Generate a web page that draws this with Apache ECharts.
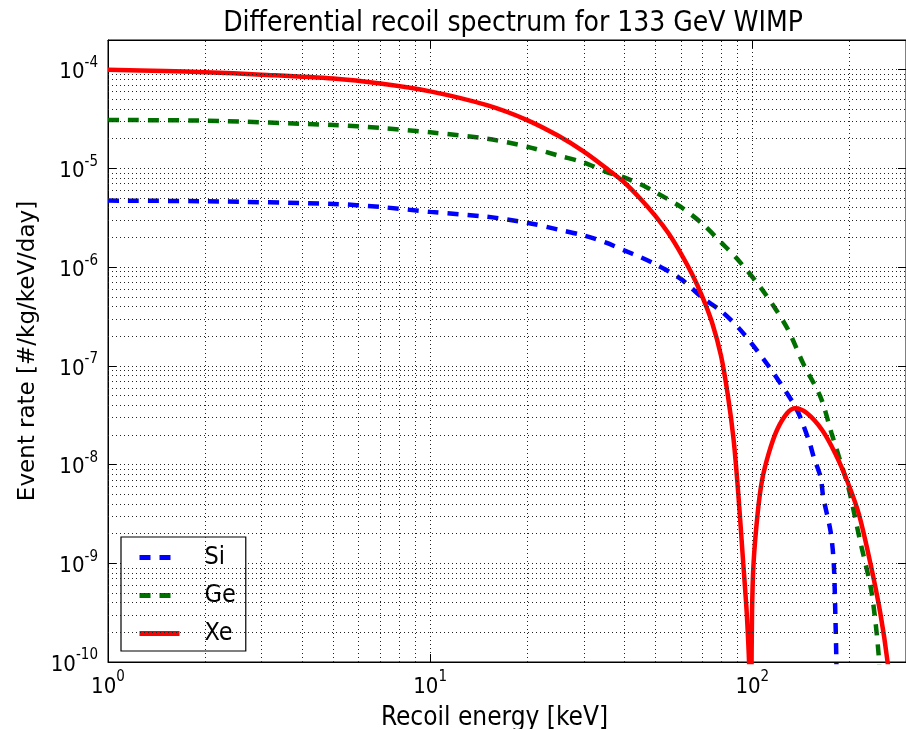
<!DOCTYPE html>
<html lang="en">
<head>
<meta charset="UTF-8">
<title>Differential recoil spectrum</title>
<script src="https://cdn.jsdelivr.net/npm/echarts@6/dist/echarts.min.js"></script>
<style>
  html, body { margin: 0; padding: 0; background: #fff; }
  #main { width: 906px; height: 729px; }
</style>
</head>
<body>
<div id="main"></div>
<script>
// values: recoil energy [keV] and event rate [#/kg/keV/day]
var siE = [1, 2, 5, 7, 10, 15, 20, 25, 30, 35, 40, 45, 50, 60, 70, 80, 92, 111, 134, 141, 151, 155, 163, 166, 175, 179, 181, 182.4, 184];
var siRate = [4.72e-6, 4.65e-6, 4.37e-6, 4.07e-6, 3.63e-6, 3.24e-6, 2.82e-6, 2.40e-6, 2.09e-6, 1.78e-6, 1.48e-6, 1.26e-6, 1.07e-6, 7.6e-7, 4.9e-7, 3.6e-7, 2.3e-7, 1.05e-7, 4.2e-8, 3.0e-8, 1.62e-8, 1.2e-8, 7.4e-9, 4.7e-9, 2.1e-9, 1.0e-9, 3.1e-10, 1.0e-10, 1e-11];

var geE = [1, 2, 5, 7, 10, 15, 20, 25, 30, 35, 40, 45, 50, 60, 70, 80, 90, 108, 128, 144, 163, 176, 197, 202, 216, 233, 241, 247, 250];
var geRate = [3.09e-5, 3.05e-5, 2.75e-5, 2.57e-5, 2.32e-5, 2.0e-5, 1.66e-5, 1.35e-5, 1.15e-5, 9.3e-6, 8.1e-6, 6.9e-6, 5.75e-6, 4.07e-6, 2.75e-6, 1.78e-6, 1.2e-6, 5.75e-7, 2.45e-7, 1.05e-7, 4.8e-8, 2.1e-8, 6.5e-9, 4.7e-9, 1.7e-9, 5.75e-10, 2.6e-10, 1.12e-10, 5e-11];

var xeE = [1, 1.5, 2, 3, 5, 7, 10, 15, 20, 25, 30, 35, 40, 45, 50, 55, 60, 65, 70, 75, 80, 84, 87.5, 90.5, 93.5, 96.3, 98.1, 98.8, 99.4, 99.8, 100.9, 103.9, 107.2, 112.4, 119.3, 128.2, 136, 147.9, 164.7, 181.1, 196.8, 213.9, 232.6, 249.8, 263, 270];
var xeRate = [1.0e-4, 9.72e-5, 9.44e-5, 8.91e-5, 8.13e-5, 7.24e-5, 6.03e-5, 4.37e-5, 3.09e-5, 2.14e-5, 1.48e-5, 1.02e-5, 7.24e-6, 4.9e-6, 3.31e-6, 2.19e-6, 1.38e-6, 8.5e-7, 5.0e-7, 2.75e-7, 1.26e-7, 5.0e-8, 1.78e-8, 5.0e-9, 1.12e-9, 2.8e-10, 6e-11, 1e-13, 5e-11, 3.1e-10, 1.0e-9, 3.2e-9, 6.9e-9, 1.29e-8, 2.24e-8, 3.31e-8, 3.72e-8, 3.31e-8, 2.24e-8, 1.29e-8, 6.9e-9, 3.2e-9, 1.0e-9, 3.1e-10, 1.0e-10, 4e-11];

var xMin = 1, xMax = 300;
var yMin = 1e-10, yMax = 2e-4;
// minor grid positions (2..9 per decade)
var xMinor = [2, 3, 4, 5, 6, 7, 8, 9, 20, 30, 40, 50, 60, 70, 80, 90, 200];
var yMinor = [];
for (var p = -10; p <= -5; p++) {
    for (var k = 2; k <= 9; k++) yMinor.push(k * Math.pow(10, p));
}

function pairs(xs, ys) {
    return xs.map(function (x, i) { return [x, ys[i]]; });
}

function powLabel(v) {
    return '{b|10}{s|' + Math.round(Math.log10(v)) + '}';
}

var myChart = echarts.init(document.getElementById('main'));

var cond = 'DejaVu Sans Condensed';
var labelRich = {
    b: { fontSize: 22, color: '#000', fontFamily: cond, verticalAlign: 'bottom', lineHeight: 28 },
    s: { fontSize: 15, color: '#000', fontFamily: cond, verticalAlign: 'top', lineHeight: 15 }
};
var dotted = { color: '#222', width: 1, type: [1, 3] };

var minorLines = [];
xMinor.forEach(function (x) { minorLines.push([{ coord: [x, yMin] }, { coord: [x, yMax] }]); });
yMinor.forEach(function (y) { minorLines.push([{ coord: [xMin, y] }, { coord: [xMax, y] }]); });

var option = {
    animation: false,
    backgroundColor: '#fff',
    title: {
        text: 'Differential recoil spectrum for 133 GeV WIMP',
        left: 508, top: 5, textAlign: 'center',
        textStyle: { fontFamily: cond, fontSize: 28, fontWeight: 'normal', color: '#000' }
    },
    grid: {
        left: 108, top: 40, width: 798, height: 622,
        outerBoundsMode: 'none', containLabel: false,
        show: true, borderColor: '#000', borderWidth: 1
    },
    legend: {
        data: ['Si', 'Ge', 'Xe'],
        orient: 'vertical',
        left: 121, top: 537,
        padding: [8, 10, 5, 16],
        itemWidth: 40, itemHeight: 14, itemGap: 13,
        itemStyle: { opacity: 0, borderWidth: 0 },
        lineStyle: { width: 5, shadowBlur: 0 },
        backgroundColor: '#fff',
        borderColor: '#000', borderWidth: 1.2, borderRadius: 0,
        textStyle: { fontFamily: cond, fontSize: 25, color: '#000', padding: [0, 0, 0, 20] }
    },
    xAxis: [{
        type: 'log', logBase: 10, min: xMin, max: xMax,
        name: 'Recoil energy [keV]', nameLocation: 'middle', nameGap: 43,
        nameTextStyle: { fontFamily: cond, fontSize: 26, color: '#000', padding: [0, 25, 0, 0] },
        axisLine: { lineStyle: { color: '#000', width: 1 } },
        axisTick: { inside: true, length: 8, lineStyle: { color: '#000' } },
        axisLabel: { formatter: powLabel, rich: labelRich, margin: 8, showMaxLabel: false },
        splitLine: { show: true, lineStyle: dotted }
    }, {
        type: 'log', logBase: 10, min: xMin, max: xMax, position: 'top',
        axisLine: { lineStyle: { color: '#000', width: 1 } },
        axisTick: { inside: true, length: 8, lineStyle: { color: '#000' } },
        axisLabel: { show: false }, splitLine: { show: false }
    }],
    yAxis: [{
        type: 'log', logBase: 10, min: yMin, max: yMax,
        name: 'Event rate [#/kg/keV/day]', nameLocation: 'middle', nameGap: 68,
        nameTextStyle: { fontFamily: 'DejaVu Sans', fontSize: 23, color: '#000' },
        axisLine: { lineStyle: { color: '#000', width: 1 } },
        axisTick: { inside: true, length: 8, lineStyle: { color: '#000' } },
        axisLabel: { formatter: powLabel, rich: labelRich, margin: 10, showMaxLabel: false },
        splitLine: { show: true, lineStyle: dotted }
    }, {
        type: 'log', logBase: 10, min: yMin, max: yMax, position: 'right',
        axisLine: { lineStyle: { color: '#000', width: 1 } },
        axisTick: { inside: true, length: 8, lineStyle: { color: '#000' } },
        axisLabel: { show: false }, splitLine: { show: false }
    }],
    series: [{
        name: 'minor-grid', type: 'line', data: [], silent: true,
        markLine: {
            silent: true, symbol: 'none', animation: false,
            label: { show: false },
            lineStyle: dotted,
            data: minorLines
        }
    }, {
        name: 'Si', type: 'line', showSymbol: false, symbol: 'none', smooth: 0.3,
        data: pairs(siE, siRate), clip: true,
        lineStyle: { color: '#0000ff', width: 4.5, type: [11, 9], cap: 'butt' },
        itemStyle: { color: '#0000ff' }
    }, {
        name: 'Ge', type: 'line', showSymbol: false, symbol: 'none', smooth: 0.3,
        data: pairs(geE, geRate), clip: true,
        lineStyle: { color: '#007000', width: 4.5, type: [11, 9], cap: 'butt' },
        itemStyle: { color: '#007000' }
    }, {
        name: 'Xe', type: 'line', showSymbol: false, symbol: 'none', smooth: 0.3,
        data: pairs(xeE, xeRate), clip: true,
        lineStyle: { color: '#ff0000', width: 4.5 },
        itemStyle: { color: '#ff0000' }
    }]
};

myChart.setOption(option);
</script>
</body>
</html>
